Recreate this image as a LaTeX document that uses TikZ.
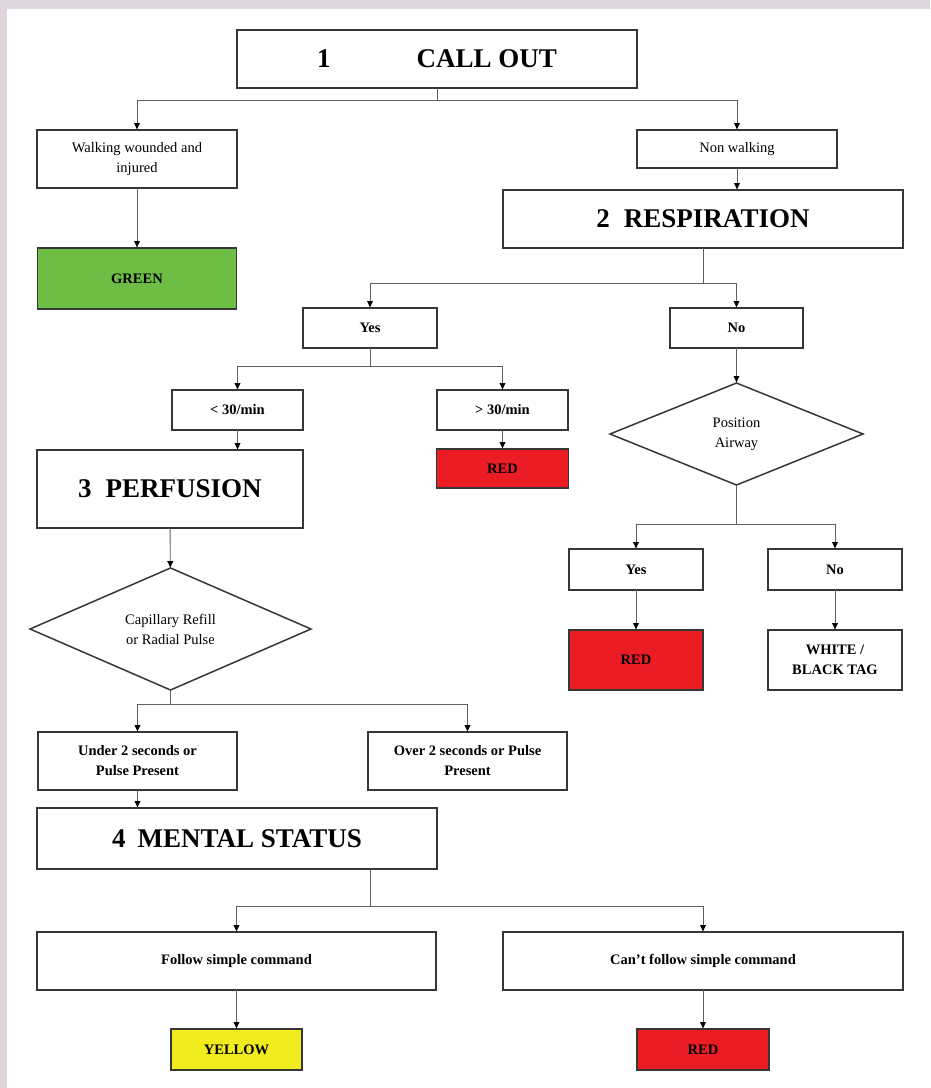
\documentclass[tikz,border=0pt]{standalone}
\usepackage{fontspec}
\setmainfont{Liberation Serif}
\usetikzlibrary{arrows.meta,positioning,shapes.geometric}

\definecolor{tagGreen}{RGB}{110,190,70}
\definecolor{tagRed}{RGB}{236,28,36}
\definecolor{tagYellow}{RGB}{240,236,30}
\definecolor{frameGrey}{RGB}{224,214,222}
\definecolor{boxLine}{RGB}{55,55,55}
\definecolor{flowLine}{RGB}{95,95,95}

\begin{document}
\begin{tikzpicture}[x=1pt,y=-1pt,
				every node/.style={inner sep=0pt,outer sep=0pt,align=center},
				smallBox/.style={draw=boxLine,line width=1.5pt,font=\fontsize{14.5}{20}\selectfont},
				boldBox/.style={smallBox,font=\fontsize{14.5}{20}\selectfont\bfseries},
				headBox/.style={draw=boxLine,line width=1.5pt,font=\fontsize{27}{30}\selectfont\bfseries},
				colourTag/.style={boldBox,minimum width=132pt,minimum height=40pt},
				decision/.style={diamond,draw=boxLine,line width=1.5pt,font=\fontsize{14.5}{20}\selectfont},
				flow/.style={draw=flowLine,line width=0.9pt,->},
				>={Latex[length=7pt,width=6.5pt,color=black]}
				]
				
				% page frame
				\fill[frameGrey] (0,0) rectangle (930,1088);
				\fill[white] (7,9) rectangle (930,1088);
				\useasboundingbox (0,0) rectangle (930,1088);
				
				% step 1
				\node[headBox,minimum width=400pt,minimum height=58pt] (callout) at (437,59) {1\hspace{86pt}CALL OUT};
				\node[smallBox,minimum width=200pt,minimum height=58pt] (walk) at (137,159) {Walking wounded and\\injured};
				\node[smallBox,minimum width=200pt,minimum height=38pt] (nonwalk) at (737,149) {Non walking};
				\node[colourTag,fill=tagGreen,minimum width=199pt,minimum height=61pt,below=60pt of walk] (green) {GREEN};
				
				% step 2
				\node[headBox,minimum width=400pt,minimum height=58pt] (resp) at (703,219) {2\hspace{14pt}RESPIRATION};
				\node[boldBox,minimum width=134pt,minimum height=40pt] (breathYes) at (370,328) {Yes};
				\node[boldBox,minimum width=133pt,minimum height=40pt] (breathNo) at (736.5,328) {No};
				\node[boldBox,minimum width=131pt,minimum height=40pt] (slow) at (237.5,410) {< 30/min};
				\node[boldBox,minimum width=131pt,minimum height=40pt] (fast) at (502.5,410) {> 30/min};
				\node[colourTag,fill=tagRed,minimum height=39pt,below=19pt of fast] (redFast) {RED};
				\node[decision,minimum width=253pt,minimum height=102pt] (airway) at (736.5,434) {Position\\Airway};
				\node[boldBox,minimum width=134pt,minimum height=41pt] (airYes) at (636,569.5) {Yes};
				\node[boldBox,minimum width=134pt,minimum height=41pt] (airNo) at (835,569.5) {No};
				\node[colourTag,fill=tagRed,minimum width=134pt,minimum height=60pt,below=40pt of airYes] (redAir) {RED};
				\node[colourTag,minimum width=134pt,minimum height=60pt,below=40pt of airNo] (blackTag) {WHITE /\\BLACK TAG};
				
				% step 3
				\node[headBox,minimum width=266pt,minimum height=78pt] (perf) at (170,489) {3\hspace{14pt}PERFUSION};
				\node[decision,minimum width=281pt,minimum height=122pt] (refill) at (170.5,629) {Capillary Refill\\or Radial Pulse};
				\node[boldBox,minimum width=199pt,minimum height=58pt] (under) at (137.5,761) {Under 2 seconds or\\Pulse Present};
				\node[boldBox,minimum width=199pt,minimum height=58pt] (over) at (467.5,761) {Over 2 seconds or Pulse\\Present};
				
				% step 4
				\node[headBox,minimum width=400pt,minimum height=61pt] (mental) at (237,838.5) {4\hspace{12pt}MENTAL STATUS};
				\node[boldBox,minimum width=399pt,minimum height=58pt] (follow) at (236.5,961) {Follow simple command};
				\node[boldBox,minimum width=400pt,minimum height=58pt] (noFollow) at (703,961) {Can't follow simple command};
				\node[colourTag,fill=tagYellow,minimum width=131pt,minimum height=41pt,below=39pt of follow] (yellow) {YELLOW};
				\node[colourTag,fill=tagRed,minimum width=132pt,minimum height=41pt,below=39pt of noFollow] (redMental) {RED};
				\coordinate (mentalOut) at (370,869);
				
				% the arrows
				\draw[flow] (callout.south) -- ++(0,12) -| (walk.north);
				\draw[flow] (callout.south) -- ++(0,12) -| (nonwalk.north);
				\draw[flow] (walk) -- (green);
				\draw[flow] (nonwalk.south) -- (nonwalk.south |- resp.north);
				\draw[flow] (resp.south) -- ++(0,35) -| (breathYes.north);
				\draw[flow] (resp.south) -- ++(0,35) -| (breathNo.north);
				\draw[flow] (breathYes.south) -- ++(0,18) -| (slow.north);
				\draw[flow] (breathYes.south) -- ++(0,18) -| (fast.north);
				\draw[flow] (fast) -- (redFast);
				\draw[flow] (slow.south) -- (slow.south |- perf.north);
				\draw[flow] (breathNo) -- (airway);
				\draw[flow] (airway.south) -- ++(0,39) -| (airYes.north);
				\draw[flow] (airway.south) -- ++(0,39) -| (airNo.north);
				\draw[flow] (airYes) -- (redAir);
				\draw[flow] (airNo) -- (blackTag);
				\draw[flow] (perf) -- (refill);
				\draw[flow] (refill.south) -- ++(0,14) -| (under.north);
				\draw[flow] (refill.south) -- ++(0,14) -| (over.north);
				\draw[flow] (under.south) -- (under.south |- mental.north);
				\draw[flow] (mentalOut) -- ++(0,37) -| (follow.north);
				\draw[flow] (mentalOut) -- ++(0,37) -| (noFollow.north);
				\draw[flow] (follow) -- (yellow);
				\draw[flow] (noFollow) -- (redMental);
			\end{tikzpicture}
\end{document}
